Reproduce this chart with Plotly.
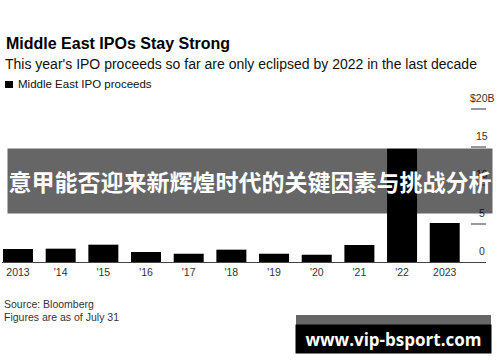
import plotly.graph_objects as go

# ---- data ----
years = [2013, 2014, 2015, 2016, 2017, 2018, 2019, 2020, 2021, 2022, 2023]
year_labels = ["2013", "'14", "'15", "'16", "'17", "'18", "'19", "'20", "'21", "'22", "2023"]
proceeds = [1.70, 1.74, 2.26, 1.31, 1.08, 1.61, 1.08, 0.95, 2.22, 14.8, 5.1]
y_tickvals = [0, 5, 10, 15, 20]
y_ticktext = ["0", "5", "10", "15", "$20B"]

title = "Middle East IPOs Stay Strong"
subtitle = "This year's IPO proceeds so far are only eclipsed by 2022 in the last decade"
legend_label = "Middle East IPO proceeds"
source_lines = ["Source: Bloomberg", "Figures are as of July 31"]
banner_text = "意甲能否迎来新辉煌时代的关键因素与挑战分析"
watermark_text = "www.vip-bsport.com"

# ---- layout geometry (pixels) ----
W_FIG, H_FIG = 500, 362
L, R = 2, 14
T, B = 105, 100
PW = W_FIG - L - R
PH = H_FIG - T - B
BOTTOM = H_FIG - B


def px2x(p):
    return (p - L) / PW


def py2y(p):
    return (BOTTOM - p) / PH


FONT = "Liberation Sans, Arial, sans-serif"

fig = go.Figure()
fig.add_trace(go.Bar(
    x=years, y=proceeds, width=0.703,
    marker=dict(color="#000000", line=dict(width=0)),
    name=legend_label, showlegend=False, hoverinfo="skip",
))

annotations = []
# title / subtitle / legend text
annotations.append(dict(text="<b>" + title + "</b>", x=px2x(4), y=py2y(43), xref="paper", yref="paper",
                        xanchor="left", yanchor="middle", showarrow=False,
                        font=dict(family=FONT, size=16, color="#000")))
annotations.append(dict(text=subtitle, x=px2x(3), y=py2y(64), xref="paper", yref="paper",
                        xanchor="left", yanchor="middle", showarrow=False,
                        font=dict(family=FONT, size=14, color="#111")))
annotations.append(dict(text=legend_label, x=px2x(16), y=py2y(84.5), xref="paper", yref="paper",
                        xanchor="left", yanchor="middle", showarrow=False,
                        font=dict(family=FONT, size=11.5, color="#111")))
# source lines
for i, line in enumerate(source_lines):
    annotations.append(dict(text=line, x=px2x(2), y=py2y(304 + 13 * i), xref="paper", yref="paper",
                            xanchor="left", yanchor="middle", showarrow=False,
                            font=dict(family=FONT, size=10.5, color="#333")))
# y tick labels (above tick marks)
for v, t in zip(y_tickvals, y_ticktext):
    annotations.append(dict(text=t, x=px2x(482), y=v, xref="paper", yref="y", yshift=11,
                            xanchor="center", yanchor="middle", showarrow=False,
                            font=dict(family=FONT, size=10.5, color="#333")))
# banner overlay (semi-transparent)
annotations.append(dict(text="<b>" + banner_text + "</b>", x=px2x(250), y=py2y(181),
                        xref="paper", yref="paper", xanchor="center", yanchor="middle",
                        showarrow=False, width=484, height=64, borderpad=0,
                        bgcolor="rgba(0,0,0,0.6)",
                        font=dict(family="Noto Sans CJK SC", size=23, color="#ffffff")))
# watermark
annotations.append(dict(text="<b>" + watermark_text + "</b>", x=px2x(393.5), y=py2y(339),
                        xref="paper", yref="paper", xanchor="center", yanchor="middle",
                        showarrow=False, width=195, height=28, borderpad=0,
                        bgcolor="#000000",
                        font=dict(family="Open Sans, DejaVu Sans, sans-serif", size=17, color="#ffffff")))

shapes = [
    dict(type="rect", xref="paper", yref="paper", x0=px2x(5), x1=px2x(13), y0=py2y(88), y1=py2y(81),
         fillcolor="#000", line=dict(width=0)),
    dict(type="rect", xref="paper", yref="paper", x0=px2x(296), x1=px2x(491), y0=py2y(325), y1=py2y(315),
         fillcolor="#666666", line=dict(width=0)),
]

fig.update_layout(
    width=W_FIG, height=H_FIG, autosize=False,
    margin=dict(l=L, r=R, t=T, b=B, pad=0),
    paper_bgcolor="#ffffff", plot_bgcolor="#ffffff",
    annotations=annotations, shapes=shapes,
    showlegend=False,
    xaxis=dict(range=[2012.625, 2023.967], tickvals=years, ticktext=year_labels,
               showline=True, linecolor="#444", linewidth=1.2, showgrid=False, zeroline=False,
               ticks="", tickfont=dict(family=FONT, size=10.5, color="#333"), fixedrange=True),
    yaxis=dict(range=[0, 20.5], side="right", tickvals=y_tickvals, showticklabels=False,
               ticks="inside", ticklen=15, tickwidth=1.5, tickcolor="#999",
               showgrid=False, zeroline=False, showline=False, fixedrange=True),
)

fig.write_html("out.html", config={"displayModeBar": False},
               post_script="document.body.style.margin='0';")
